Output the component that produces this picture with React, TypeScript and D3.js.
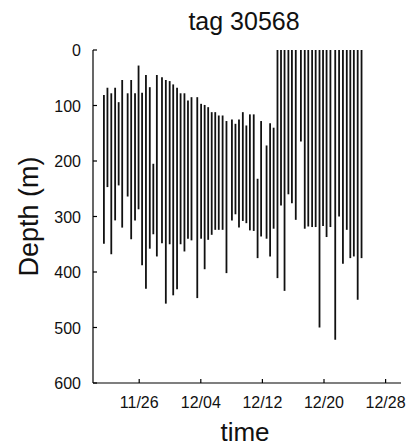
import React from "react";
import * as d3 from "d3";

// Dive records for tag 30568: time of each dive bout, shallowest and deepest depth (m)
const diveTimes = [
  "2003-11-21 10:00", "2003-11-21 21:00", "2003-11-22 09:00", "2003-11-22 21:00",
  "2003-11-23 08:00", "2003-11-23 19:00", "2003-11-24 12:00", "2003-11-24 23:00",
  "2003-11-25 11:00", "2003-11-25 22:00", "2003-11-26 09:00", "2003-11-26 21:00",
  "2003-11-27 09:00", "2003-11-27 20:00", "2003-11-28 07:00", "2003-11-28 23:00",
  "2003-11-29 11:00", "2003-11-29 23:00", "2003-11-30 10:00", "2003-11-30 22:00",
  "2003-12-01 09:00", "2003-12-01 21:00", "2003-12-02 08:00", "2003-12-02 19:00",
  "2003-12-03 13:00", "2003-12-04 01:00", "2003-12-04 12:00", "2003-12-04 23:00",
  "2003-12-05 10:00", "2003-12-05 21:00", "2003-12-06 08:00", "2003-12-06 20:00",
  "2003-12-07 08:00", "2003-12-08 01:00", "2003-12-08 12:00", "2003-12-08 23:00",
  "2003-12-09 11:00", "2003-12-09 22:00", "2003-12-10 09:00", "2003-12-10 21:00",
  "2003-12-11 09:00", "2003-12-11 20:00", "2003-12-12 13:00", "2003-12-13 00:00",
  "2003-12-13 11:00", "2003-12-13 23:00", "2003-12-14 10:00", "2003-12-14 21:00",
  "2003-12-15 09:00", "2003-12-15 20:00", "2003-12-16 08:00", "2003-12-17 00:00",
  "2003-12-17 12:00", "2003-12-17 23:00", "2003-12-18 11:00", "2003-12-18 22:00",
  "2003-12-19 10:00", "2003-12-19 21:00", "2003-12-20 08:00", "2003-12-20 20:00",
  "2003-12-21 11:00", "2003-12-21 23:00", "2003-12-22 11:00", "2003-12-22 23:00",
  "2003-12-23 10:00", "2003-12-23 21:00", "2003-12-24 09:00", "2003-12-24 21:00",
];

const minDepth = [
  81, 68, 78, 68, 94, 54, 78, 54, 78, 28, 77, 45, 67, 205, 45, 49,
  54, 56, 62, 68, 78, 78, 91, 85, 85, 97, 99, 103, 112, 112, 118, 118,
  128, 125, 133, 125, 112, 136, 116, 116, 232, 128, 172, 132, 140, 0,
  0, 0, 0, 0, 0, 0, 0, 0, 0, 0, 0, 0, 0, 0, 0, 0, 0, 0, 0, 0, 0, 0,
];

const maxDepth = [
  349, 247, 368, 307, 244, 320, 264, 341, 307, 287, 388, 430, 358, 332, 372, 348,
  457, 350, 442, 431, 350, 363, 340, 343, 447, 340, 395, 342, 333, 324, 324, 324,
  402, 307, 296, 320, 308, 312, 325, 326, 375, 336, 340, 372, 322, 411,
  280, 434, 260, 276, 306, 165, 322, 318, 319, 319, 500, 317, 337, 319, 522, 300,
  385, 324, 375, 372, 450, 375,
];

const timeDomain = ["2003-11-20", "2003-12-30"];
const timeTicks = ["2003-11-26", "2003-12-04", "2003-12-12", "2003-12-20", "2003-12-28"];
const depthTicks = [0, 100, 200, 300, 400, 500, 600];

const W = 410;
const H = 447;
const plot = { left: 93, right: 401, top: 50, bottom: 383 };
const font = "'Liberation Sans', Arial, Helvetica, sans-serif";

export default function App() {
  const parseTime = d3.timeParse("%Y-%m-%d %H:%M");
  const parseDay = d3.timeParse("%Y-%m-%d");
  const fmt = d3.timeFormat("%m/%d");

  const x = d3
    .scaleTime()
    .domain(timeDomain.map((s) => parseDay(s) as Date))
    .range([plot.left, plot.right]);
  const y = d3.scaleLinear().domain([0, 600]).range([plot.top, plot.bottom]);

  const dives = diveTimes.map((t, i) => ({
    t: parseTime(t) as Date,
    lo: minDepth[i],
    hi: maxDepth[i],
  }));

  const tickLen = 4;

  return (
    <svg
      width={W}
      height={H}
      style={{ position: "absolute", left: 0, top: 0, background: "#fff" }}
      fontFamily={font}
    >
      <rect width={W} height={H} fill="#fff" />

      {/* dive ranges */}
      <g stroke="#111" strokeWidth={1.8}>
        {dives.map((d, i) => {
          const xp = x(d.t);
          return <line key={i} x1={xp} x2={xp} y1={y(d.lo)} y2={y(d.hi)} />;
        })}
      </g>

      {/* axes */}
      <g stroke="#000" strokeWidth={1.2} fill="none">
        <line x1={plot.left} x2={plot.left} y1={plot.top} y2={plot.bottom} />
        <line x1={plot.left} x2={plot.right} y1={plot.bottom} y2={plot.bottom} />
        {depthTicks.map((v) => (
          <line key={v} x1={plot.left} x2={plot.left + tickLen} y1={y(v)} y2={y(v)} />
        ))}
        {timeTicks.map((s) => {
          const xp = x(parseDay(s) as Date);
          return <line key={s} x1={xp} x2={xp} y1={plot.bottom} y2={plot.bottom - tickLen} />;
        })}
      </g>

      {/* tick labels */}
      <g fontSize={16} fill="#111">
        {depthTicks.map((v) => (
          <text key={v} x={plot.left - 12} y={y(v) + 6} textAnchor="end">
            {v}
          </text>
        ))}
        {timeTicks.map((s) => (
          <text key={s} x={x(parseDay(s) as Date)} y={408} textAnchor="middle">
            {fmt(parseDay(s) as Date)}
          </text>
        ))}
      </g>

      {/* title and axis titles */}
      <text x={244} y={30} fontSize={25} textAnchor="middle" fill="#111">
        tag 30568
      </text>
      <text x={245} y={441} fontSize={26} textAnchor="middle" fill="#111">
        time
      </text>
      <text
        transform={`translate(38, ${(plot.top + plot.bottom) / 2}) rotate(-90)`}
        fontSize={27}
        textAnchor="middle"
        fill="#111"
      >
        Depth (m)
      </text>
    </svg>
  );
}
